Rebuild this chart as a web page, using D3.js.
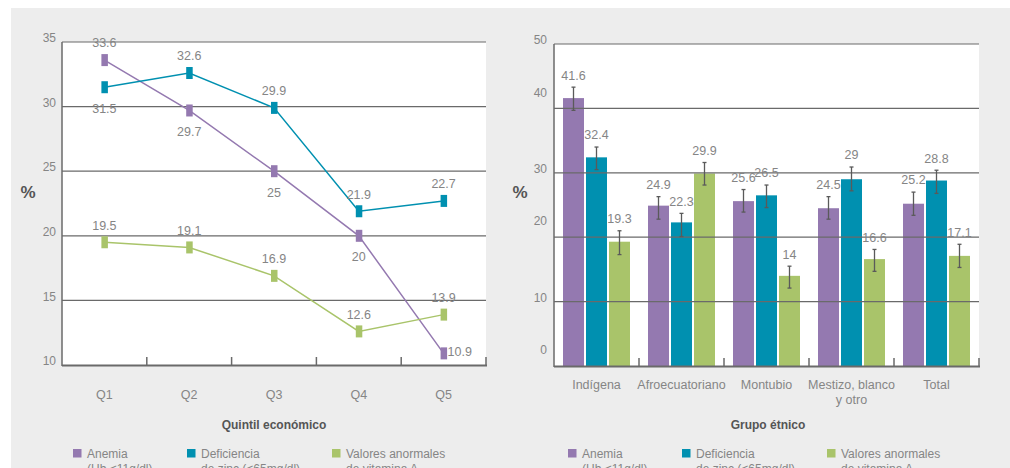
<!DOCTYPE html>
<html><head><meta charset="utf-8">
<script src="https://cdn.jsdelivr.net/npm/d3@7/dist/d3.min.js"></script>
<style>
html,body{margin:0;padding:0;background:#fff;}
svg{display:block;font-family:"Liberation Sans",Helvetica,Arial,sans-serif;}
</style></head><body>
<svg id="c" width="1010" height="468"></svg>
<script>
// ---- data ----
const quintiles = ["Q1","Q2","Q3","Q4","Q5"];
const anemiaQ = [33.6, 29.7, 25, 20, 10.9];
const zincQ = [31.5, 32.6, 29.9, 21.9, 22.7];
const vitAQ = [19.5, 19.1, 16.9, 12.6, 13.9];
const leftTicks = [10, 15, 20, 25, 30, 35];

const groups = ["Indígena","Afroecuatoriano","Montubio","Mestizo, blanco\ny otro","Total"];
const anemiaG = [41.6, 24.9, 25.6, 24.5, 25.2];
const zincG = [32.4, 22.3, 26.5, 29, 28.8];
const vitAG = [19.3, 29.9, 14, 16.6, 17.1];
const anemiaLo = [39.7, 22.8, 23.9, 22.8, 23.4];
const anemiaHi = [43.3, 26.3, 27.4, 26.3, 27.0];
const zincLo = [30.5, 20.1, 24.6, 27.2, 26.8];
const zincHi = [34.0, 23.7, 28.1, 30.9, 30.4];
const vitALo = [17.3, 28.1, 12.1, 14.7, 15.3];
const vitAHi = [21.0, 31.6, 15.5, 18.1, 18.9];
const rightTicks = [0, 10, 20, 30, 40, 50];

const seriesNames = ["Anemia","Deficiencia","Valores anormales"];
const seriesLine2 = ["(Hb <11g/dl)","de zinc (<65mg/dl)","de vitamina A"];
const colors = ["#9479b0","#0090b0","#a9c46a"];

// ---- drawing ----
const svg = d3.select("#c");
const txt = "#858585", dark = "#555", grid = "#6a6a6a";
svg.append("rect").attr("x",11).attr("y",8).attr("width",999).attr("height",460).attr("fill","#ededed");

// LEFT CHART
(function(){
  const x0=62,x1=486,yTop=42,yBot=365;
  const x = d3.scaleBand().domain(quintiles).range([x0,x1]);
  const y = d3.scaleLinear().domain([10,35]).range([yBot,yTop]);
  const g = svg.append("g");
  g.append("rect").attr("x",x0).attr("y",yTop).attr("width",x1-x0).attr("height",yBot-yTop).attr("fill","#fff");
  g.selectAll("line.grid").data(leftTicks.filter(t=>t>10)).join("line")
    .attr("x1",x0).attr("x2",x1).attr("y1",d=>y(d)).attr("y2",d=>y(d))
    .attr("stroke",grid).attr("stroke-width",1.2);
  g.selectAll("text.yt").data(leftTicks).join("text")
    .attr("x",56).attr("y",d=>y(d)-4).attr("dy","0.35em").attr("text-anchor","end")
    .attr("font-size",12).attr("fill",txt).text(d=>d);
  // axes
  g.append("line").attr("x1",x0).attr("x2",x0).attr("y1",yTop).attr("y2",yBot+1).attr("stroke",grid).attr("stroke-width",1.5);
  g.append("line").attr("x1",x0).attr("x2",x1+1).attr("y1",yBot+0.5).attr("y2",yBot+0.5).attr("stroke",grid).attr("stroke-width",2);
  const bounds = quintiles.map(q=>x(q)+x.bandwidth());
  g.selectAll("line.tk").data(bounds).join("line")
    .attr("x1",d=>d).attr("x2",d=>d).attr("y1",yBot-8).attr("y2",yBot).attr("stroke",grid).attr("stroke-width",1.5);
  g.selectAll("text.xl").data(quintiles).join("text")
    .attr("x",d=>x(d)+x.bandwidth()/2).attr("y",395).attr("dy","0.35em").attr("text-anchor","middle")
    .attr("font-size",12.5).attr("fill",txt).text(d=>d);
  g.append("text").attr("x",274).attr("y",425).attr("dy","0.35em").attr("text-anchor","middle")
    .attr("font-size",12).attr("font-weight","bold").attr("fill",dark).text("Quintil económico");
  g.append("text").attr("x",28).attr("y",192).attr("dy","0.35em").attr("text-anchor","middle")
    .attr("font-size",17).attr("font-weight","bold").attr("fill",dark).text("%");
  const cx = q=>x(q)+x.bandwidth()/2;
  const series = [anemiaQ, zincQ, vitAQ];
  // label placement: a=above, b=below, r=right
  const place = [["a","b","b","b","r"],["b","a","a","a","a"],["a","a","a","a","a"]];
  series.forEach((vals,si)=>{
    const pts = quintiles.map((q,i)=>[cx(q), y(vals[i])]);
    g.append("path").attr("d",d3.line()(pts)).attr("fill","none").attr("stroke",colors[si]).attr("stroke-width",1.5);
  });
  series.forEach((vals,si)=>{
    g.selectAll(null).data(vals).join("rect")
      .attr("x",(d,i)=>cx(quintiles[i])-3).attr("y",d=>y(d)-6).attr("width",6.5).attr("height",12)
      .attr("fill",colors[si]);
  });
  series.forEach((vals,si)=>{
    g.selectAll(null).data(vals).join("text")
      .attr("x",(d,i)=>place[si][i]==="r" ? cx(quintiles[i])+4 : cx(quintiles[i]))
      .attr("y",(d,i)=>y(d)+(place[si][i]==="a"?-17:place[si][i]==="b"?21:-2))
      .attr("dy","0.35em")
      .attr("text-anchor",(d,i)=>place[si][i]==="r"?"start":"middle")
      .attr("font-size",12.5).attr("fill",txt).text(d=>d);
  });
})();

// RIGHT CHART
(function(){
  const x0=554,x1=979,yTop=44,yBot=366;
  const x = d3.scaleBand().domain(groups).range([x0,x1]);
  const xs = d3.scaleBand().domain(seriesNames).range([9,76]).paddingInner(0.087);
  const y = d3.scaleLinear().domain([0,50]).range([yBot,yTop]);
  const g = svg.append("g");
  g.append("rect").attr("x",x0).attr("y",yTop).attr("width",x1-x0).attr("height",yBot-yTop).attr("fill","#fff");
  const vals=[anemiaG,zincG,vitAG], lo=[anemiaLo,zincLo,vitALo], hi=[anemiaHi,zincHi,vitAHi];
  vals.forEach((v,si)=>{
    g.selectAll(null).data(v).join("rect")
      .attr("x",(d,i)=>x(groups[i])+xs(seriesNames[si])).attr("y",d=>y(d))
      .attr("width",xs.bandwidth()).attr("height",d=>yBot-y(d)).attr("fill",colors[si]);
  });
  g.selectAll("line.grid").data(rightTicks.filter(t=>t>0)).join("line")
    .attr("x1",x0).attr("x2",x1).attr("y1",d=>y(d)).attr("y2",d=>y(d))
    .attr("stroke",grid).attr("stroke-width",1.2);
  g.selectAll("text.yt").data(rightTicks).join("text")
    .attr("x",547).attr("y",(d,i)=>y(d)-(i%2===0?16:4)).attr("dy","0.35em").attr("text-anchor","end")
    .attr("font-size",12).attr("fill",txt).text(d=>d);
  vals.forEach((v,si)=>{
    v.forEach((d,i)=>{
      const c = x(groups[i])+xs(seriesNames[si])+xs.bandwidth()/2;
      const e = g.append("g").attr("stroke","#5a5a5a").attr("stroke-width",1.3);
      e.append("line").attr("x1",c).attr("x2",c).attr("y1",y(hi[si][i])).attr("y2",y(lo[si][i]));
      e.append("line").attr("x1",c-2).attr("x2",c+2).attr("y1",y(hi[si][i])).attr("y2",y(hi[si][i]));
      e.append("line").attr("x1",c-2).attr("x2",c+2).attr("y1",y(lo[si][i])).attr("y2",y(lo[si][i]));
      g.append("text").attr("x",c).attr("y",y(hi[si][i])-12).attr("dy","0.35em").attr("text-anchor","middle")
        .attr("font-size",12.5).attr("fill",txt).text(d);
    });
  });
  g.append("line").attr("x1",x0).attr("x2",x0).attr("y1",yTop).attr("y2",yBot+1).attr("stroke",grid).attr("stroke-width",1.5);
  g.append("line").attr("x1",x0).attr("x2",x1+1).attr("y1",yBot+0.5).attr("y2",yBot+0.5).attr("stroke",grid).attr("stroke-width",2);
  const bounds = groups.map(q=>x(q)+x.bandwidth());
  g.selectAll("line.tk").data(bounds).join("line")
    .attr("x1",d=>d).attr("x2",d=>d).attr("y1",yBot-8).attr("y2",yBot).attr("stroke",grid).attr("stroke-width",1.5);
  groups.forEach(gr=>{
    const lines = gr.split("\n");
    const t = g.append("text").attr("x",x(gr)+x.bandwidth()/2).attr("y",385).attr("dy","0.35em")
      .attr("text-anchor","middle").attr("font-size",12.5).attr("fill",txt);
    lines.forEach((l,k)=>t.append("tspan").attr("x",x(gr)+x.bandwidth()/2).attr("dy",k===0?"0.35em":"1.2em").text(l));
  });
  g.append("text").attr("x",768).attr("y",425).attr("dy","0.35em").attr("text-anchor","middle")
    .attr("font-size",12).attr("font-weight","bold").attr("fill",dark).text("Grupo étnico");
  g.append("text").attr("x",520).attr("y",192).attr("dy","0.35em").attr("text-anchor","middle")
    .attr("font-size",17).attr("font-weight","bold").attr("fill",dark).text("%");
})();

// LEGENDS
function legend(xsq, xtx){
  seriesNames.forEach((s,i)=>{
    svg.append("rect").attr("x",xsq[i]).attr("y",449).attr("width",8.5).attr("height",8.5).attr("fill",colors[i]);
    const t = svg.append("text").attr("x",xtx[i]).attr("y",458).attr("font-size",12).attr("fill",txt);
    t.append("tspan").attr("x",xtx[i]).text(s);
    t.append("tspan").attr("x",xtx[i]).attr("dy",14.5).text(seriesLine2[i]);
  });
}
legend([73,187,332],[87,201,346]);
legend([568,682,827],[582,696,841]);
</script>
</body></html>
